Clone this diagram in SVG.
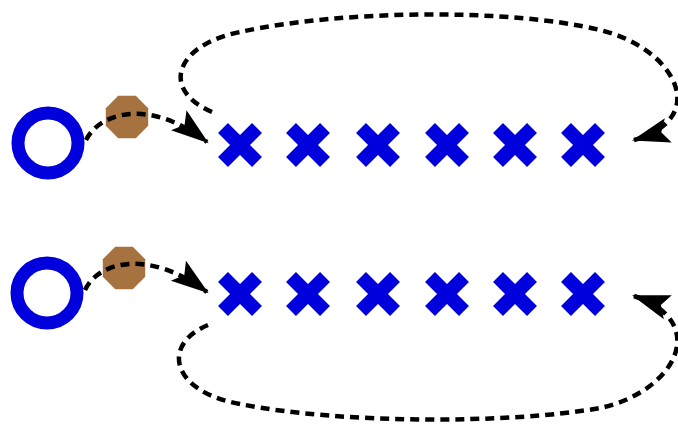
<svg xmlns="http://www.w3.org/2000/svg" width="678" height="424" viewBox="0 0 678 424">
<defs>
<style>
.ring{fill:none;stroke:#0000dd;stroke-width:13}
.oct{fill:#a6723f}
.x line{stroke:#0000dd;stroke-width:14;stroke-linecap:butt}
.edge{fill:none;stroke:#000;stroke-width:4.5;stroke-dasharray:9 6}
</style>
<marker id="ah" markerUnits="userSpaceOnUse" markerWidth="44" markerHeight="44" viewBox="-38 -16 42 32" refX="0" refY="0" orient="auto">
<path d="M2,0 L-34,-12 L-27,0 L-34,12 Z" fill="#000"/>
</marker>
<g id="cross" class="x"><line x1="-17" y1="-17" x2="17" y2="17"/><line x1="-17" y1="17" x2="17" y2="-17"/></g>
<polygon id="octa" class="oct" points="21.2,8.8 8.8,21.2 -8.8,21.2 -21.2,8.8 -21.2,-8.8 -8.8,-21.2 8.8,-21.2 21.2,-8.8"/>
</defs>
<rect width="678" height="424" fill="#fff"/>
<g id="start1"><circle class="ring" cx="48" cy="143" r="30"/></g>
<g id="gate1"><use href="#octa" x="127" y="117"/></g>
<g id="row1">
<use href="#cross" x="240" y="145"/><use href="#cross" x="308" y="145"/><use href="#cross" x="378" y="145"/>
<use href="#cross" x="447" y="145"/><use href="#cross" x="515" y="145"/><use href="#cross" x="583" y="145"/>
</g>
<g id="start2"><circle class="ring" cx="47" cy="293" r="30"/></g>
<g id="gate2"><use href="#octa" x="124" y="268"/></g>
<g id="row2">
<use href="#cross" x="240" y="294"/><use href="#cross" x="308" y="294"/><use href="#cross" x="378" y="294"/>
<use href="#cross" x="447" y="294"/><use href="#cross" x="515" y="294"/><use href="#cross" x="583" y="294"/>
</g>
<g id="connectors">
<path class="edge" marker-end="url(#ah)" d="M86,140 C100,112 150,98 207,142"/>
<path class="edge" marker-end="url(#ah)" d="M212,112 C160,90 175,45 240,32 C340,10 510,8 600,30 C675,48 712,118 634,140"/>
<path class="edge" marker-end="url(#ah)" d="M85,290 C98,262 148,248 207,292"/>
<path class="edge" marker-end="url(#ah)" d="M208,325 C160,345 172,392 240,404 C340,424 510,424 600,408 C675,392 712,322 634,296"/>
</g>
</svg>
